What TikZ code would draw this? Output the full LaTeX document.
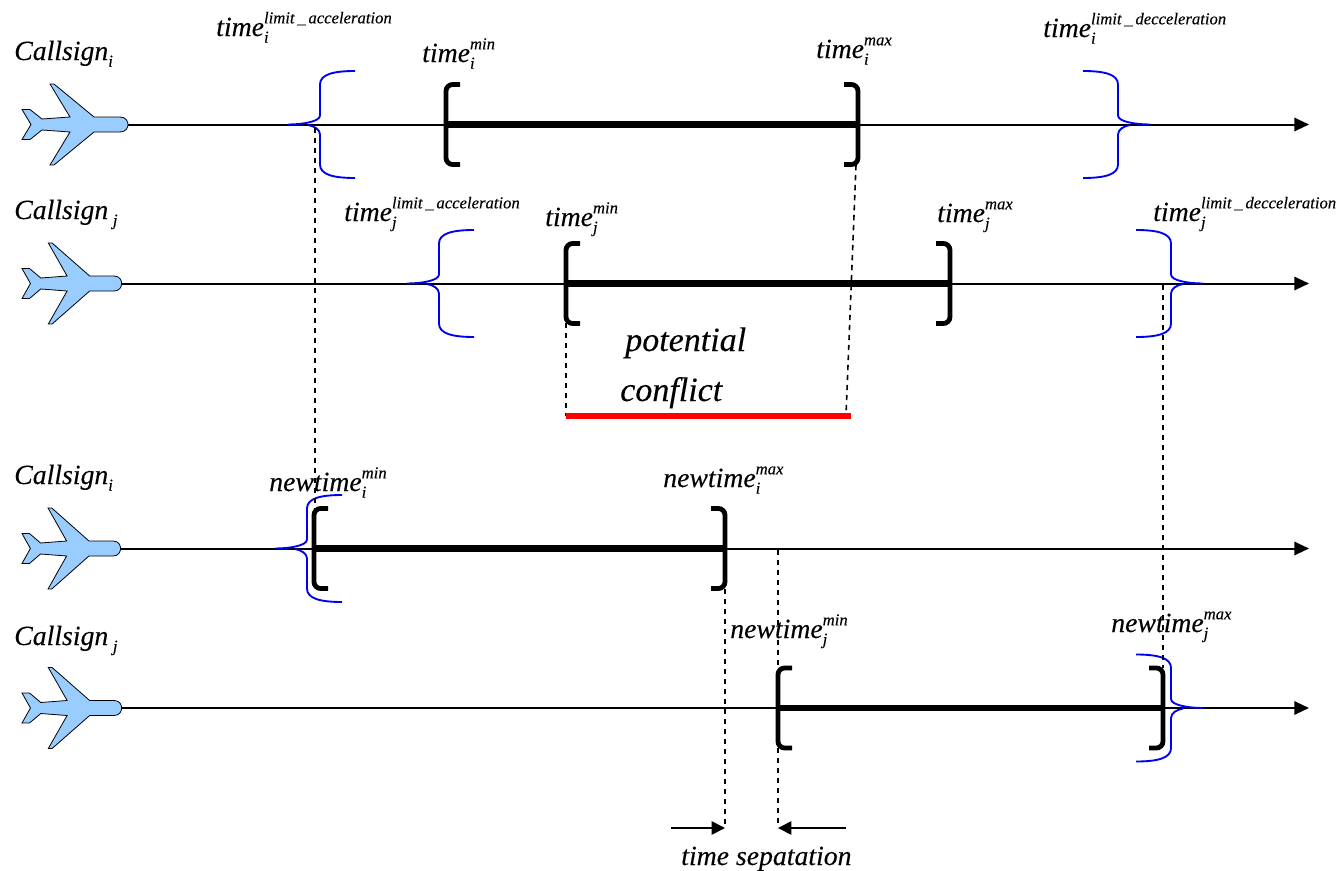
\documentclass[tikz,border=0pt]{standalone}
\usepackage{fontspec}
\setmainfont[ItalicFeatures={FakeBold=0.2}]{Liberation Serif}
\usepackage{tikz}
\usetikzlibrary{arrows.meta}
\definecolor{planeblue}{HTML}{99CCFF}
\definecolor{limitblue}{HTML}{0000F0}
\newcommand{\smalltag}{\fontsize{12.5}{13}\selectfont\itshape}
\newcommand{\stacked}[3]{#1\rlap{\raisebox{-5pt}{\smalltag #2}}\raisebox{9.5pt}{\smalltag #3}}

\begin{document}
\begin{tikzpicture}[
    x=0.75pt, y=-0.75pt,
    tag/.style={anchor=base west, inner sep=0pt, font=\fontsize{20.8}{22}\selectfont\itshape},
    note/.style={anchor=base west, inner sep=0pt, font=\fontsize{25.5}{28}\selectfont\itshape},
    axis/.style={-{Triangle[length=11pt,width=10pt]}, line width=1.5pt},
    window/.style={line width=5pt},
    gap/.style={dashed, dash pattern=on 4pt off 3.5pt, line width=1.2pt},
    overlap/.style={red, line width=4.5pt},
    pointer/.style={-{Triangle[length=10pt,width=10pt]}, line width=1.3pt},
    plane/.pic={
      \draw[fill=planeblue, line width=0.6pt] (0,-15) -- (8,-15) -- (20,-5.5) -- (48,-7.5) -- (28,-40.5) -- (32,-40.5)
        -- (72,-7.5) -- (98,-7.5) .. controls (104,-7.5) and (106,-3) .. (106,0) .. controls (106,3) and (104,7.5) .. (98,7.5)
        -- (72,7.5) -- (32,40.5) -- (28,40.5) -- (48,7.5) -- (20,5.5) -- (8,15) -- (0,15) -- (9,0) -- cycle;
    },
    bracket/.pic={
      \draw[line width=3.6pt, rounded corners=5pt] (14,-40) -- (0,-40) -- (0,40) -- (14,40);
    },
    limit/.pic={
      \draw[limitblue, line width=1.4pt] (67,-53.5) .. controls (45,-53.5) and (32,-50) .. (32,-40) -- (32,-9) .. controls (32,-3) and (15,0) .. (0,0);
      \draw[limitblue, line width=1.4pt] (67,53.5) .. controls (45,53.5) and (32,50) .. (32,40) -- (32,10) .. controls (32,5) and (26,1.5) .. (20,0.5);
    }
  ]
    \useasboundingbox (0,0) rectangle (1339,871);

    % rows
    \coordinate (starti) at (128,124.5);
    \coordinate (endi) at (1309,124.5);
    \coordinate (startj) at (121,283.5);
    \coordinate (endj) at (1309,283.5);
    \coordinate (startni) at (120,548.5);
    \coordinate (endni) at (1309,548.5);
    \coordinate (startnj) at (121,708);
    \coordinate (endnj) at (1309,708);

    % time windows
    \coordinate (imin) at (446,124.5);
    \coordinate (imax) at (858,124.5);
    \coordinate (jmin) at (566,283.5);
    \coordinate (jmax) at (950,283.5);
    \coordinate (nimin) at (314,548.5);
    \coordinate (nimax) at (725,548.5);
    \coordinate (njmin) at (778,708);
    \coordinate (njmax) at (1163,708);

    \draw [axis] (starti) -- (endi);
    \draw [axis] (startj) -- (endj);
    \draw [axis] (startni) -- (endni);
    \draw [axis] (startnj) -- (endnj);

    \pic at (22,124.5) {plane};
    \pic [xscale=0.94] at (22,283.5) {plane};
    \pic [xscale=0.93] at (22,548.5) {plane};
    \pic [xscale=0.94] at (22,708) {plane};

    \draw [window] (imin) -- (imax);
    \draw [window] (jmin) -- (jmax);
    \draw [window] (nimin) -- (nimax);
    \draw [window] (njmin) -- (njmax);

    \pic at (imin) {bracket};
    \pic [xscale=-1] at (imax) {bracket};
    \pic at (jmin) {bracket};
    \pic [xscale=-1] at (jmax) {bracket};
    \pic at (nimin) {bracket};
    \pic [xscale=-1] at (nimax) {bracket};
    \pic at (njmin) {bracket};
    \pic [xscale=-1] at (njmax) {bracket};

    \pic at (288,124.5) {limit};
    \pic [xscale=-1] at (1150,124.5) {limit};
    \pic at (407,283.5) {limit};
    \pic [xscale=-1] at (1203,283.5) {limit};
    \pic at (275,548.5) {limit};
    \pic [xscale=-1] at (1203,708) {limit};

    % dashed links
    \coordinate (lowi) at (315,128);
    \coordinate (topni) at (315,509);
    \coordinate (lowimax) at (856,165);
    \coordinate (ovend) at (846,415.5);
    \coordinate (lowjmin) at (566,323);
    \coordinate (ovstart) at (566,415.5);
    \coordinate (ovred) at (851,415.5);
    \coordinate (lowj) at (1163,285);
    \coordinate (topnj) at (1163,668);
    \coordinate (lownimax) at (725,589);
    \coordinate (sepleft) at (725,828);
    \coordinate (upnjmin) at (778,550);
    \coordinate (topnjmin) at (778,668);
    \coordinate (lownjmin) at (778,748);
    \coordinate (sepright) at (778,828);
    \coordinate (fromleft) at (671,828);
    \coordinate (fromright) at (846,828);

    \draw [gap] (lowi) -- (topni);
    \draw [gap] (lowimax) -- (ovend);
    \draw [gap] (lowjmin) -- (ovstart);
    \draw [gap] (lowj) -- (topnj);
    \draw [gap] (lownimax) -- (sepleft);
    \draw [gap] (upnjmin) -- (topnjmin);
    \draw [gap] (lownjmin) -- (sepright);

    \draw [overlap] (ovstart) -- (ovred);
    \draw [pointer] (fromleft) -- (sepleft);
    \draw [pointer] (fromright) -- (sepright);

    % labels
    \node (calli) [tag] at (14,60) {\stacked{Callsign}{i}{}};
    \node (limai) [tag] at (216,36) {\stacked{time}{i}{limit\,\_\,acceleration}};
    \node (mini) [tag] at (422,62) {\stacked{time}{i}{min}};
    \node (maxi) [tag] at (816,58) {\stacked{time}{i}{max}};
    \node (limdi) [tag] at (1043,37) {\stacked{time}{i}{limit\,\_\,decceleration}};

    \node (callj) [tag] at (14,219) {\stacked{Callsign\,}{j}{}};
    \node (limaj) [tag] at (344,221) {\stacked{time}{j}{limit\,\_\,acceleration}};
    \node (minj) [tag] at (545,226) {\stacked{time}{j}{min}};
    \node (maxj) [tag] at (937,222) {\stacked{time}{j}{max}};
    \node (limdj) [tag] at (1153,221) {\stacked{time}{j}{limit\,\_\,decceleration}};

    \node (potential) [note] at (625,351) {potential};
    \node (conflict) [note] at (620,401) {conflict};

    \node (callni) [tag] at (14,484) {\stacked{Callsign}{i}{}};
    \node (newmini) [tag] at (269,491) {\stacked{newtime}{i}{min}};
    \node (newmaxi) [tag] at (663,487) {\stacked{newtime}{i}{max}};

    \node (callnj) [tag] at (14,645) {\stacked{Callsign\,}{j}{}};
    \node (newminj) [tag] at (730,638) {\stacked{newtime}{j}{min}};
    \node (newmaxj) [tag] at (1111,632) {\stacked{newtime}{j}{max}};

    \node (sepnote) [tag] at (681,865) {time sepatation};
\end{tikzpicture}
\end{document}
